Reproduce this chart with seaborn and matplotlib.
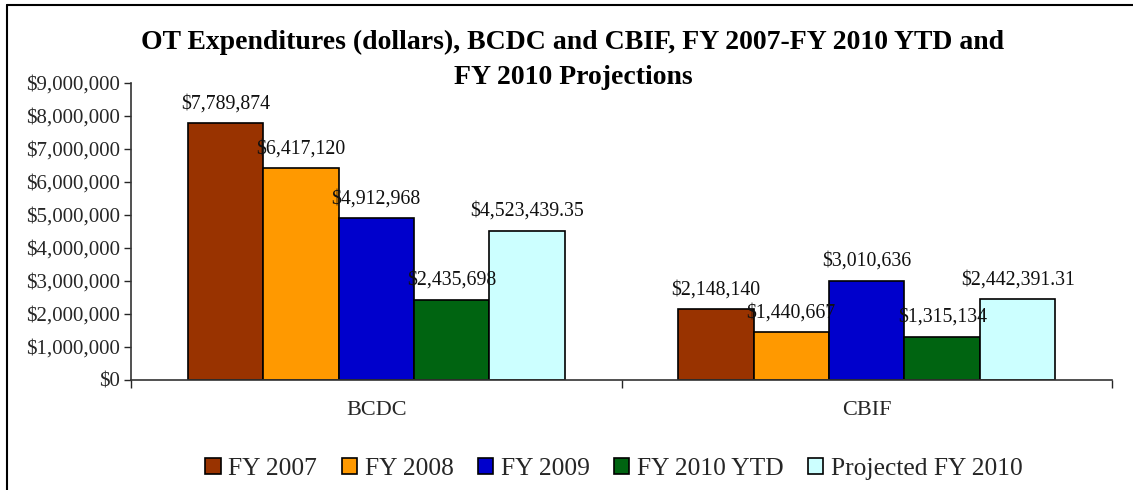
import matplotlib
matplotlib.use("Agg")
import matplotlib.pyplot as plt
import seaborn as sns
import pandas as pd
from matplotlib.lines import Line2D
from matplotlib.ticker import FuncFormatter

categories = ["BCDC", "CBIF"]
series = ["FY 2007", "FY 2008", "FY 2009", "FY 2010 YTD", "Projected FY 2010"]
fy2007 = [7789874, 2148140]
fy2008 = [6417120, 1440667]
fy2009 = [4912968, 3010636]
fy2010_ytd = [2435698, 1315134]
projected_2010 = [4523439.35, 2442391.31]
colors = ["#993300", "#FF9900", "#0000CC", "#006411", "#CCFFFF"]
title = "OT Expenditures (dollars), BCDC and CBIF, FY 2007-FY 2010 YTD and\nFY 2010 Projections"

values = [fy2007, fy2008, fy2009, fy2010_ytd, projected_2010]
rows = []
for s, vals in zip(series, values):
    for c, v in zip(categories, vals):
        rows.append({"org": c, "series": s, "value": v})
df = pd.DataFrame(rows)

sns.set_style("white")
plt.rcParams["font.family"] = ["Liberation Serif", "DejaVu Serif"]

fig = plt.figure(figsize=(11.33, 4.9), dpi=100)
ax = fig.add_axes([131/1133, 1-380/490, (1112-131)/1133, (380-83)/490])

sns.barplot(data=df, x="org", y="value", hue="series", palette=colors,
            hue_order=series, order=categories, saturation=1,
            edgecolor="black", linewidth=1.2, width=5/6.5, gap=0, ax=ax)

def fmt_label(v):
    if abs(v - round(v)) > 1e-6:
        return f"${v:,.2f}"
    return f"${v:,.0f}"

for cont, vals in zip(ax.containers, values):
    ax.bar_label(cont, labels=[fmt_label(v) for v in vals], padding=7,
                 fontsize=14.3, color="#111111")

ax.set_ylim(0, 9000000)
ax.set_yticks(range(0, 9000001, 1000000))
ax.yaxis.set_major_formatter(FuncFormatter(lambda v, p: f"${v:,.0f}"))
ax.set_xlim(-0.5, 1.5)
ax.set_xticks([-0.5, 0.5, 1.5])
ax.set_xticklabels([])
for i, c in enumerate(categories):
    ax.text(i, -0.072, c, transform=ax.get_xaxis_transform(), ha="center",
            va="top", fontsize=16)
ax.set_xlabel("")
ax.set_ylabel("")
ax.tick_params(axis="y", labelsize=15, length=5, width=1, direction="out",
               left=True, pad=3)
ax.tick_params(axis="x", length=6, width=1, direction="out", bottom=True)
for side in ["top", "right"]:
    ax.spines[side].set_visible(False)
for side in ["left", "bottom"]:
    ax.spines[side].set_color("#333333")
    ax.spines[side].set_linewidth(1.2)

handles, labels = ax.get_legend_handles_labels()
ax.get_legend().remove()
fig.legend(handles, labels, loc="center", bbox_to_anchor=(614/1133, 1-469/490),
           ncol=5, frameon=False, fontsize=18.4, handlelength=0.6,
           handleheight=0.6, handletextpad=0.3, columnspacing=0.95)

fig.text(573/1133, 1-60/490, title, ha="center", va="center", fontsize=20,
         fontweight="bold", linespacing=1.55, color="black")

fig.add_artist(Line2D([7/1133, 7/1133], [0, 1-5/490], transform=fig.transFigure,
                      color="black", linewidth=1.5))
fig.add_artist(Line2D([7/1133, 1], [1-5/490, 1-5/490], transform=fig.transFigure,
                      color="black", linewidth=1.5))

fig.savefig("out.png", dpi=100)
